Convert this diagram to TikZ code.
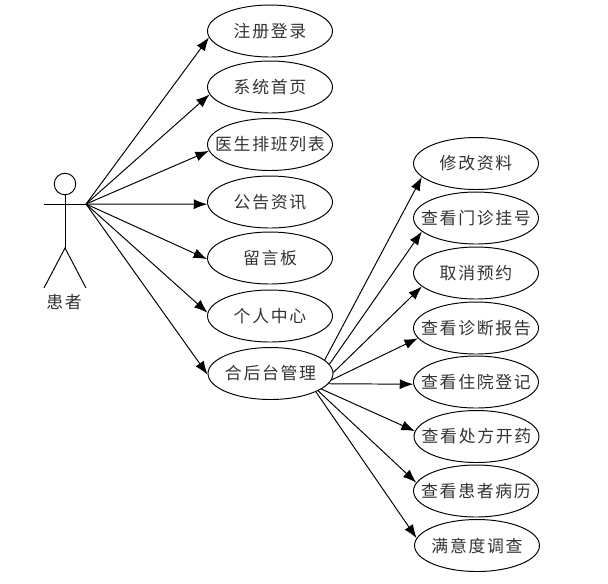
\documentclass[tikz,border=0pt]{standalone}
\usepackage{fontspec}
\usepackage{xcolor}
\usetikzlibrary{arrows.meta,shapes.geometric}
\setmainfont[LetterSpace=10]{Noto Sans CJK SC}
\definecolor{textcol}{HTML}{333333}
\newcommand{\uctext}[1]{\makebox[0pt]{#1}}

\begin{document}
\begin{tikzpicture}[x=0.02cm,y=-0.02cm,line width=0.55pt,
  font=\fontsize{9.6}{11}\selectfont,text=textcol,
  usecase/.style={draw,ellipse,minimum width=2.5cm,minimum height=1.04cm,inner sep=0pt},
  link/.style={-{Latex[length=0.27cm,width=0.2cm]}},
]
\useasboundingbox (0,0) rectangle (608,583);

% actor
\node[draw,circle,minimum size=0.43cm,inner sep=0pt] (head) at (65,184) {};
\coordinate (crotch) at (65,248);
\coordinate (lefthand) at (44,204);
\coordinate (hand) at (86,204);
\coordinate (leftfoot) at (44,288);
\coordinate (rightfoot) at (86,288);
\node (patient) at (64,302) {患者};
\draw (head.south) -- (crotch);
\draw (lefthand) -- (hand);
\draw (leftfoot) -- (crotch) -- (rightfoot);

% left: first level use cases
\node[usecase] (login) at (270,31) {\uctext{注册登录}};
\node[usecase] (home) at (270,87) {\uctext{系统首页}};
\node[usecase] (doctors) at (270,144.5) {\uctext{医生排班列表}};
\node[usecase] (notice) at (270,202) {\uctext{公告资讯}};
\node[usecase] (board) at (270,258) {\uctext{留言板}};
\node[usecase] (center) at (270,316) {\uctext{个人中心}};
\node[usecase] (admin) at (270.5,373.5) {\uctext{合后台管理}};

% right: second level use cases
\node[usecase] (profile) at (476,163.5) {\uctext{修改资料}};
\node[usecase] (clinic) at (476,218) {\uctext{查看门诊挂号}};
\node[usecase] (cancel) at (476,273) {\uctext{取消预约}};
\node[usecase] (report) at (476,328) {\uctext{查看诊断报告}};
\node[usecase] (ward) at (476,382) {\uctext{查看住院登记}};
\node[usecase] (recipe) at (476.5,436.5) {\uctext{查看处方开药}};
\node[usecase] (record) at (476,491) {\uctext{查看患者病历}};
\node[usecase] (survey) at (477,545.5) {\uctext{满意度调查}};

% actor to first level
\draw[link] (hand) -- (login.186);
\draw[link] (hand) -- (home.187);
\draw[link] (hand) -- (doctors.186);
\draw[link] (hand) -- (notice.182);
\draw[link] (hand) -- (board.181);
\draw[link] (hand) -- (center.177);
\draw[link] (hand) -- (admin.181);

% first level to second level
\draw[link] (admin.14) -- (profile.194);
\draw[link] (admin.9) -- (clinic.194);
\draw[link] (admin.1) -- (cancel.194);
\draw[link] (admin.-6) -- (report.190);
\draw[link] (admin.-10) -- (ward.182);
\draw[link] (admin.-17) -- (recipe.175);
\draw[link] (admin.-20) -- (record.172);
\draw[link] (admin.-22) -- (survey.173);
\end{tikzpicture}
\end{document}
